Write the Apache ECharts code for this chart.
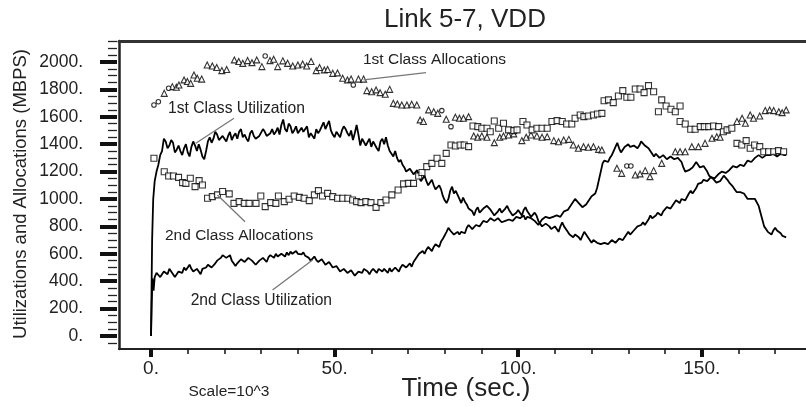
<!DOCTYPE html>
<html>
<head>
<meta charset="utf-8">
<script src="https://cdn.jsdelivr.net/npm/echarts@6/dist/echarts.min.js"></script>
<style>
html,body{margin:0;padding:0;background:#fff;}
#chart{width:806px;height:407px;}
</style>
</head>
<body>
<div id="chart"></div>
<script>
// ---- data (time in sec x10^3, values in MBPS) ----
const util1st = [[0,0],[0.3,700],[0.6,1000],[1,1130],[2,1250],[3,1350],[4,1420],[5,1390],[6,1410],[7,1360],[8,1350],[9,1370],[10,1340],[11,1380],[12,1390],[13,1400],[14,1310],[15,1350],[16,1450],[17,1440],[18,1470],[19,1420],[20,1440],[21,1460],[22,1430],[23,1480],[24,1490],[25,1450],[26,1440],[27,1480],[28,1460],[29,1430],[30,1470],[31,1490],[32,1450],[33,1510],[34,1490],[35,1470],[36,1580],[37,1490],[38,1530],[39,1500],[40,1480],[41,1520],[42,1500],[43,1450],[44,1470],[45,1510],[46,1500],[47,1560],[48,1540],[49,1500],[50,1450],[51,1480],[52,1500],[53,1510],[54,1460],[55,1430],[56,1540],[57,1390],[58,1430],[59,1400],[60,1380],[61,1410],[62,1350],[63,1440],[64,1450],[65,1350],[66,1310],[67,1300],[68,1285],[69,1230],[70,1190],[71,1230],[72,1170],[73,1160],[74,1150],[75,1130],[76,1120],[77,1100],[78,1060],[79,1070],[80,990],[81,1000],[82,1090],[83,1060],[84,1000],[85,1010],[86,960],[87,930],[88,880],[89,940],[90,890],[91,920],[92,960],[93,900],[94,870],[95,930],[96,890],[97,950],[98,900],[99,870],[100,920],[101,880],[102,940],[103,900],[104,860],[105,880],[106,820],[107,790],[108,830],[109,780],[110,800],[111,760],[112,830],[113,790],[114,740],[115,720],[116,750],[117,700],[118,760],[119,720],[120,680],[121,700],[122,690],[123,660],[124,690],[125,680],[126,700],[127,690],[128,720],[129,710],[130,760],[131,740],[132,780],[133,790],[134,830],[135,800],[136,880],[137,850],[138,900],[139,880],[140,920],[141,950],[142,940],[143,990],[144,970],[145,1010],[146,1000],[147,1060],[148,1050],[149,1110],[150,1120],[151,1150],[152,1130],[153,1170],[154,1160],[155,1180],[156,1210],[157,1190],[158,1220],[159,1250],[160,1230],[161,1260],[162,1250],[163,1290],[164,1280],[165,1310],[166,1330],[167,1290],[168,1330],[169,1310],[170,1340],[171,1300],[172,1340],[173,1320]];

// half-second readings of the same line (between the whole-second ones)
const util1stHalf = [[1.5,1200],[2.5,1320],[3.5,1440],[4.5,1370],[5.5,1430],[6.5,1340],[7.5,1390],[8.5,1320],[9.5,1400],[10.5,1310],[11.5,1420],[12.5,1350],[13.5,1360],[14.5,1290],[15.5,1420],[16.5,1410],[17.5,1490],[18.5,1430],[19.5,1460],[20.5,1420],[21.5,1490],[22.5,1460],[23.5,1440],[24.5,1510],[25.5,1470],[26.5,1420],[27.5,1500],[28.5,1440],[29.5,1460],[30.5,1510],[31.5,1460],[32.5,1480],[33.5,1470],[34.5,1520],[35.5,1540],[36.5,1510],[37.5,1550],[38.5,1480],[39.5,1530],[40.5,1470],[41.5,1490],[42.5,1530],[43.5,1480],[44.5,1440],[45.5,1480],[46.5,1530],[47.5,1510],[48.5,1570],[49.5,1470],[50.5,1490],[51.5,1450],[52.5,1530],[53.5,1480],[54.5,1500],[55.5,1480],[56.5,1470],[57.5,1440],[58.5,1390],[59.5,1440],[60.5,1420],[61.5,1370],[62.5,1420],[63.5,1400],[64.5,1390],[65.5,1330],[66.5,1350],[67.5,1270],[68.5,1250],[69.5,1200],[70.5,1220],[71.5,1180],[72.5,1210],[73.5,1130],[74.5,1170],[75.5,1100],[76.5,1140],[77.5,1070],[78.5,1100],[79.5,1020],[80.5,970],[81.5,1060],[82.5,1040],[83.5,1030],[84.5,970],[85.5,980],[86.5,930],[87.5,910],[88.5,920],[89.5,900],[90.5,930],[91.5,950],[92.5,920],[93.5,880],[94.5,910],[95.5,900],[96.5,930],[97.5,920],[98.5,880],[99.5,900],[100.5,900],[101.5,920],[102.5,910],[103.5,870],[104.5,900],[105.5,840],[106.5,800],[107.5,820],[108.5,800],[109.5,790],[110.5,780],[111.5,800],[112.5,800],[113.5,760],[114.5,730],[115.5,740],[116.5,720],[117.5,730],[118.5,740],[119.5,700],[120.5,700],[121.5,680],[122.5,670],[123.5,680],[124.5,670],[125.5,700],[126.5,680],[127.5,710],[128.5,700],[129.5,740],[130.5,740],[131.5,770],[132.5,800],[133.5,810],[134.5,810],[135.5,850],[136.5,860],[137.5,880],[138.5,890],[139.5,910],[140.5,940],[141.5,930],[142.5,970],[143.5,980],[144.5,1000],[145.5,990],[146.5,1040],[147.5,1040],[148.5,1080],[149.5,1100],[150.5,1140],[151.5,1130],[152.5,1160],[153.5,1150],[154.5,1180],[155.5,1200],[156.5,1190],[157.5,1210],[158.5,1240],[159.5,1230],[160.5,1250],[161.5,1240],[162.5,1280],[163.5,1270],[164.5,1300],[165.5,1320],[166.5,1300],[167.5,1320],[168.5,1320],[169.5,1330],[170.5,1310],[171.5,1330],[172.5,1320]];

const util2nd = [[0,0],[0.2,250],[0.4,420],[0.7,330],[1,430],[2,445],[3,450],[4,470],[5,490],[6,450],[7,440],[8,480],[9,500],[10,500],[11,490],[12,475],[13,470],[14,490],[15,500],[16,520],[17,510],[18,550],[19,570],[20,590],[21,570],[22,550],[23,510],[24,540],[25,565],[26,555],[27,560],[28,540],[29,530],[30,550],[31,560],[32,575],[33,590],[34,600],[35,585],[36,595],[37,610],[38,615],[39,605],[40,600],[41,595],[42,585],[43,570],[44,565],[45,555],[46,550],[47,540],[48,530],[49,520],[50,500],[51,490],[52,480],[53,475],[54,470],[55,460],[56,445],[57,480],[58,490],[59,470],[60,475],[61,480],[62,490],[63,470],[64,480],[65,495],[66,480],[67,490],[68,500],[69,520],[70,510],[71,505],[72,560],[73,600],[74,620],[75,630],[76,640],[77,650],[78,670],[79,690],[80,700],[81,790],[82,770],[83,750],[84,740],[85,770],[86,790],[87,800],[88,790],[89,820],[90,810],[91,850],[92,840],[93,860],[94,830],[95,850],[96,820],[97,830],[98,860],[99,850],[100,880],[101,870],[102,850],[103,880],[104,860],[105,830],[106,820],[107,860],[108,880],[109,850],[110,870],[111,890],[112,880],[113,900],[114,940],[115,980],[116,990],[117,960],[118,940],[119,980],[120,1020],[121,1040],[122,1140],[123,1260],[124,1290],[125,1300],[126,1350],[127,1410],[128,1340],[129,1380],[130,1400],[131,1370],[132,1400],[133,1390],[134,1410],[135,1380],[136,1360],[137,1310],[138,1320],[139,1300],[140,1310],[141,1290],[142,1320],[143,1280],[144,1300],[145,1230],[146,1190],[147,1200],[148,1250],[149,1260],[150,1220],[151,1250],[152,1170],[153,1150],[154,1120],[155,1130],[156,1170],[157,1140],[158,1110],[159,1070],[160,1040],[161,1060],[162,1020],[163,990],[164,1010],[165,1000],[166,900],[167,800],[168,760],[169,740],[170,790],[171,760],[172,730],[173,720]];

const util2ndHalf = [[1.5,460],[2.5,430],[3.5,470],[4.5,450],[5.5,470],[6.5,430],[7.5,470],[8.5,460],[9.5,480],[10.5,520],[11.5,470],[12.5,490],[13.5,450],[14.5,480],[15.5,520],[16.5,500],[17.5,530],[18.5,560],[19.5,590],[20.5,570],[21.5,590],[22.5,530],[23.5,530],[24.5,560],[25.5,540],[26.5,570],[27.5,550],[28.5,520],[29.5,550],[30.5,570],[31.5,540],[32.5,590],[33.5,570],[34.5,580],[35.5,600],[36.5,580],[37.5,590],[38.5,600],[39.5,620],[40.5,590],[41.5,610],[42.5,580],[43.5,550],[44.5,580],[45.5,540],[46.5,560],[47.5,520],[48.5,540],[49.5,500],[50.5,510],[51.5,470],[52.5,490],[53.5,460],[54.5,480],[55.5,440],[56.5,470],[57.5,460],[58.5,480],[59.5,450],[60.5,490],[61.5,460],[62.5,480],[63.5,490],[64.5,460],[65.5,470],[66.5,500],[67.5,470],[68.5,520],[69.5,500],[70.5,530],[71.5,540],[72.5,580],[73.5,610],[74.5,600],[75.5,650],[76.5,620],[77.5,670],[78.5,650],[79.5,710],[80.5,760],[81.5,770],[82.5,740],[83.5,760],[84.5,760],[85.5,750],[86.5,810],[87.5,780],[88.5,810],[89.5,800],[90.5,840],[91.5,830],[92.5,860],[93.5,840],[94.5,860],[95.5,830],[96.5,840],[97.5,850],[98.5,840],[99.5,870],[100.5,860],[101.5,880],[102.5,870],[103.5,860],[104.5,840],[105.5,810],[106.5,850],[107.5,870],[108.5,860],[109.5,870],[110.5,880],[111.5,870],[112.5,910],[113.5,920],[114.5,960],[115.5,1000],[116.5,970],[117.5,940],[118.5,960],[119.5,1000],[120.5,1030],[121.5,1080],[122.5,1200],[123.5,1280],[124.5,1270],[125.5,1320],[126.5,1380],[127.5,1370],[128.5,1360],[129.5,1390],[130.5,1380],[131.5,1390],[132.5,1370],[133.5,1420],[134.5,1390],[135.5,1370],[136.5,1330],[137.5,1330],[138.5,1300],[139.5,1320],[140.5,1290],[141.5,1310],[142.5,1290],[143.5,1300],[144.5,1270],[145.5,1200],[146.5,1210],[147.5,1230],[148.5,1270],[149.5,1230],[150.5,1240],[151.5,1200],[152.5,1160],[153.5,1140],[154.5,1130],[155.5,1150],[156.5,1160],[157.5,1120],[158.5,1090],[159.5,1050],[160.5,1050],[161.5,1040],[162.5,1000],[163.5,1000],[164.5,1000],[165.5,950],[166.5,850],[167.5,780],[168.5,750],[169.5,770],[170.5,770],[171.5,750],[172.5,720]];

const alloc1stTri = [[3.6,1771],[5.8,1820],[6.9,1815],[7.6,1832],[9.0,1869],[9.9,1857],[10.8,1844],[11.7,1905],[12.6,1881],[13.8,1875],[15.3,1978],[16.7,1970],[17.9,1960],[19.3,1937],[20.6,1945],[22.7,2015],[23.9,2003],[25.0,1990],[26.3,2010],[27.5,1995],[28.8,2015],[30.2,1966],[32.4,2010],[33.4,2020],[34.5,1966],[35.9,2008],[37.2,1990],[38.6,1970],[40.0,1978],[41.3,1985],[42.4,1970],[43.6,2003],[45.0,1937],[45.9,1960],[47.2,1942],[48.1,1945],[49.5,1917],[50.8,1920],[52.2,1881],[53.5,1869],[54.5,1875],[56.5,1875],[57.9,1875],[58.8,1791],[60.1,1783],[61.3,1796],[62.4,1776],[63.8,1764],[65.0,1800],[66.0,1698],[67.1,1693],[68.3,1686],[69.7,1686],[71.0,1691],[72.4,1686],[73.3,1577],[74.2,1565],[75.6,1650],[77.0,1637],[78.1,1625],[80.4,1582],[82.9,1596],[84.0,1589],[85.1,1589],[86.5,1601],[87.9,1460],[89.0,1450],[90.1,1460],[91.5,1450],[93.5,1411],[95.0,1450],[96.0,1460],[97.4,1467],[98.8,1475],[101.0,1426],[102.2,1450],[103.5,1467],[105.1,1460],[106.5,1450],[107.9,1455],[109.7,1426],[111.0,1418],[112.4,1430],[113.8,1435],[115.0,1394],[116.4,1370],[117.8,1382],[119.1,1377],[120.5,1382],[121.9,1362],[122.8,1358],[126.9,1224],[128.2,1187],[131.9,1175],[133.2,1183],[134.6,1207],[135.9,1163],[136.9,1207],[139.1,1260],[142.8,1345],[144.1,1345],[145.5,1345],[147.3,1382],[149.1,1382],[150.9,1406],[152.8,1443],[154.1,1455],[155.0,1450],[156.9,1504],[159.6,1565],[161.0,1589],[161.9,1553],[163.2,1613],[164.1,1589],[165.8,1606],[167.3,1645],[168.5,1650],[169.6,1645],[171.0,1637],[171.9,1630],[173.0,1650]];

const alloc1stCirc = [[0.8,1686],[2.0,1710],[4.8,1808],[31.1,2044],[55.1,1832],[79.2,1645],[81.7,1528],[129.6,1241],[130.7,1241]];

const alloc2ndSq = [[0.8,1297],[3.6,1199],[4.8,1168],[6.1,1168],[7.5,1158],[8.6,1119],[9.5,1114],[10.7,1151],[12.0,1090],[13.1,1134],[14.0,1102],[15.4,1005],[16.7,1017],[18.1,1030],[19.5,1054],[21.3,1037],[22.6,968],[24.0,981],[25.4,968],[26.7,968],[28.6,968],[29.9,1022],[31.1,944],[32.6,973],[34.0,968],[34.7,1022],[36.3,981],[37.6,998],[39.0,1022],[40.4,1012],[41.7,1005],[43.1,988],[44.5,1030],[45.6,1061],[46.7,1022],[48.1,1041],[49.5,1017],[50.8,1005],[52.2,1005],[53.6,1005],[54.9,993],[56.0,981],[57.2,973],[58.5,981],[59.9,973],[61.3,939],[62.6,973],[64.0,993],[65.6,1030],[67.3,1066],[68.8,1110],[70.1,1114],[71.5,1114],[72.9,1168],[73.8,1193],[75.1,1236],[76.5,1260],[77.9,1297],[79.2,1260],[80.4,1333],[81.7,1394],[82.9,1387],[84.2,1394],[85.3,1394],[86.5,1382],[87.7,1533],[89.0,1528],[90.1,1516],[91.5,1516],[92.4,1491],[93.5,1569],[94.7,1516],[96.0,1553],[97.4,1504],[98.8,1499],[99.7,1504],[101.3,1565],[102.4,1540],[103.8,1504],[105.1,1516],[106.5,1516],[107.9,1516],[109.2,1565],[110.6,1572],[112.0,1565],[113.2,1547],[114.6,1547],[115.5,1589],[116.9,1613],[117.9,1601],[119.1,1606],[120.5,1613],[121.6,1620],[122.8,1625],[123.4,1717],[124.6,1723],[125.9,1703],[127.3,1752],[128.5,1791],[129.6,1742],[130.7,1742],[131.9,1803],[133.2,1803],[134.3,1776],[135.5,1827],[136.9,1783],[138.2,1637],[139.1,1723],[140.3,1679],[141.6,1655],[142.8,1637],[144.1,1679],[144.1,1565],[145.5,1547],[147.0,1509],[148.2,1509],[149.6,1528],[150.7,1528],[151.9,1528],[153.2,1533],[154.6,1528],[155.9,1491],[156.9,1504],[158.2,1516],[159.6,1406],[160.9,1394],[162.1,1426],[163.2,1370],[164.4,1394],[165.8,1382],[166.9,1345],[168.2,1345],[169.6,1345],[170.9,1353],[172.3,1345]];

// tick values
const xMajorTicks = [0, 50, 100, 150];
const xMinorTicks = [10, 20, 30, 40, 60, 70, 80, 90, 110, 120, 130, 140, 160, 170];
const yMajorTicks = [0, 200, 400, 600, 800, 1000, 1200, 1400, 1600, 1800, 2000];
const yMinorTicks = [-50, 50, 100, 150, 250, 300, 350, 450, 500, 550, 650, 700, 750, 850, 900, 950, 1050, 1100, 1150, 1250, 1300, 1350, 1450, 1500, 1550, 1650, 1700, 1750, 1850, 1900, 1950, 2050, 2100, 2150];

// leader lines of the annotations, in data coordinates
const leaderLines = [
  [[12.2, 1407], [22.6, 1589]],
  [[57.9, 1869], [74.9, 1922]],
  [[18.1, 1029], [25.6, 834]],
  [[33.1, 336], [44.0, 555]]
];

const FONT = "'Liberation Sans', Arial, Helvetica, sans-serif";
const X_MIN = -8.72, X_MAX = 178.4, Y_MIN = -95, Y_MAX = 2153;

const byTime = (a, b) => a[0] - b[0];
const util1stAll = util1st.concat(util1stHalf).sort(byTime);
const util2ndAll = util2nd.concat(util2ndHalf).sort(byTime);

const chart = echarts.init(document.getElementById('chart'), null, {renderer: 'canvas'});

const fmt = v => v + '.';

const option = {
  animation: false,
  backgroundColor: '#fff',
  grid: {left: 119, top: 41, right: -4, bottom: 58, containLabel: false},
  xAxis: [
    {
      type: 'value', min: X_MIN, max: X_MAX, position: 'bottom',
      axisLine: {show: true, onZero: false, lineStyle: {color: '#222', width: 2}},
      axisTick: {show: true, customValues: xMajorTicks, length: 8, lineStyle: {color: '#111', width: 4}},
      axisLabel: {show: true, customValues: xMajorTicks, formatter: fmt, margin: 10,
        color: '#222', fontFamily: FONT, fontSize: 19},
      splitLine: {show: false}
    },
    {
      type: 'value', min: X_MIN, max: X_MAX, position: 'bottom',
      axisLine: {show: false, onZero: false},
      axisTick: {show: true, customValues: xMinorTicks, length: 5, lineStyle: {color: '#111', width: 1.5}},
      axisLabel: {show: false},
      splitLine: {show: false}
    },
    {
      type: 'value', min: X_MIN, max: X_MAX, position: 'top',
      axisLine: {show: true, onZero: false, lineStyle: {color: '#333', width: 3}},
      axisTick: {show: false}, axisLabel: {show: false}, splitLine: {show: false}
    }
  ],
  yAxis: [
    {
      type: 'value', min: Y_MIN, max: Y_MAX, position: 'left',
      axisLine: {show: true, onZero: false, lineStyle: {color: '#222', width: 2.5}},
      axisTick: {show: false},
      axisLabel: {show: true, customValues: yMajorTicks, formatter: fmt, margin: 36,
        color: '#222', fontFamily: FONT, fontSize: 17.5},
      splitLine: {show: false}
    },
    {
      type: 'value', min: Y_MIN, max: Y_MAX, position: 'left', offset: 2,
      axisLine: {show: false, onZero: false},
      axisTick: {show: true, customValues: yMajorTicks, length: 17, lineStyle: {color: '#111', width: 4}},
      axisLabel: {show: false}, splitLine: {show: false}
    },
    {
      type: 'value', min: Y_MIN, max: Y_MAX, position: 'left', offset: 2,
      axisLine: {show: false, onZero: false},
      axisTick: {show: true, customValues: yMinorTicks, length: 9, lineStyle: {color: '#222', width: 1.3}},
      axisLabel: {show: false}, splitLine: {show: false}
    }
  ],
  series: [
    {
      name: '1st Class Utilization', type: 'line', data: util1stAll, showSymbol: false, symbol: 'none',
      lineStyle: {color: '#000', width: 1.8}, z: 3,
      markLine: {
        silent: true, symbol: ['none', 'none'], label: {show: false},
        lineStyle: {color: '#777', width: 1.3, type: 'solid'},
        data: leaderLines.map(l => [{coord: l[0]}, {coord: l[1]}])
      }
    },
    {
      name: '2nd Class Utilization', type: 'line', data: util2ndAll, showSymbol: false, symbol: 'none',
      lineStyle: {color: '#000', width: 1.8}, z: 3
    },
    {
      name: '1st Class Allocations', type: 'scatter', data: alloc1stTri, symbol: 'triangle', symbolSize: 6,
      itemStyle: {color: '#fff', borderColor: '#000', borderWidth: 1.1}, z: 4
    },
    {
      name: '1st Class Allocations (o)', type: 'scatter', data: alloc1stCirc, symbol: 'circle', symbolSize: 4.5,
      itemStyle: {color: '#fff', borderColor: '#000', borderWidth: 1.1}, z: 4
    },
    {
      name: '2nd Class Allocations', type: 'scatter', data: alloc2ndSq, symbol: 'rect', symbolSize: 6,
      itemStyle: {color: '#fff', borderColor: '#000', borderWidth: 1.1}, z: 4
    }
  ],
  graphic: [
    {type: 'text', x: 465, y: 20, style: {text: 'Link 5-7, VDD', font: '26px ' + FONT, fill: '#222', textAlign: 'center', textVerticalAlign: 'middle'}},
    {type: 'text', x: 466, y: 389, style: {text: 'Time (sec.)', font: '26px ' + FONT, fill: '#222', textAlign: 'center', textVerticalAlign: 'middle'}},
    {type: 'text', x: 229, y: 392, style: {text: 'Scale=10^3', font: '15.5px ' + FONT, fill: '#222', textAlign: 'center', textVerticalAlign: 'middle'}},
    {type: 'text', x: 21, y: 194, rotation: Math.PI / 2, style: {text: 'Utilizations and Allocations (MBPS)', font: '18.5px ' + FONT, fill: '#222', textAlign: 'center', textVerticalAlign: 'middle'}},
    {type: 'text', x: 168, y: 108.4, style: {text: '1st Class Utilization', font: '15.7px ' + FONT, fill: '#222', textAlign: 'left', textVerticalAlign: 'middle'}},
    {type: 'text', x: 363, y: 60.1, style: {text: '1st Class Allocations', font: '15.5px ' + FONT, fill: '#222', textAlign: 'left', textVerticalAlign: 'middle'}},
    {type: 'text', x: 165, y: 235.8, style: {text: '2nd Class Allocations', font: '15.5px ' + FONT, fill: '#222', textAlign: 'left', textVerticalAlign: 'middle'}},
    {type: 'text', x: 190.7, y: 300.4, style: {text: '2nd Class Utilization', font: '15.6px ' + FONT, fill: '#222', textAlign: 'left', textVerticalAlign: 'middle'}}
  ]
};

chart.setOption(option);
</script>
</body>
</html>
